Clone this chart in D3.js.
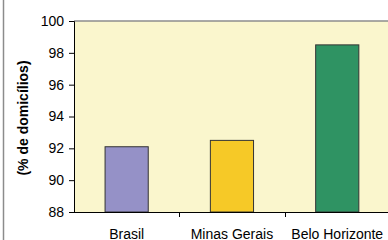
<!DOCTYPE html>
<html>
<head>
<meta charset="utf-8">
<script src="https://cdn.jsdelivr.net/npm/d3@7"></script>
<style>
  body { margin: 0; background: #fff; }
  text { font-family: "Liberation Sans", Arial, sans-serif; }
</style>
</head>
<body>
<svg id="chart" width="388" height="240"></svg>
<script>
var categories = ['Brasil', 'Minas Gerais', 'Belo Horizonte'];
var values = [92.1, 92.5, 98.5];
var colors = ['#9591c7', '#f6c927', '#2f9363'];
var yTicks = [88, 90, 92, 94, 96, 98, 100];

var svg = d3.select('#chart');
var plotLeft = 74, plotTop = 21, plotBottom = 212, bandW = 105.3;

var x = d3.scaleBand()
  .domain(categories)
  .range([plotLeft, plotLeft + bandW * categories.length])
  .paddingInner(0.59).paddingOuter(0.295);
var y = d3.scaleLinear().domain([88, 100]).range([plotBottom, plotTop]);

// outer chart border (left edge)
svg.append('line')
  .attr('x1', 3.5).attr('x2', 3.5).attr('y1', 0).attr('y2', 240)
  .attr('stroke', '#8c8c8c').attr('stroke-width', 1.5)

// plot background
svg.append('rect')
  .attr('x', plotLeft).attr('y', plotTop)
  .attr('width', 388 - plotLeft).attr('height', plotBottom - plotTop)
  .attr('fill', '#faf6cd')
svg.append('line')
  .attr('x1', plotLeft).attr('x2', 388).attr('y1', plotTop).attr('y2', plotTop)
  .attr('stroke', '#8c8c8c').attr('stroke-width', 1.5)

svg.selectAll('rect.bar')
  .data(values)
  .enter().append('rect')
  .attr('class', 'bar')
  .attr('x', function(d, i) { return x(categories[i]); })
  .attr('y', function(d) { return y(d); })
  .attr('width', x.bandwidth())
  .attr('height', function(d) { return plotBottom - y(d); })
  .attr('fill', function(d, i) { return colors[i]; })
  .attr('stroke', '#333').attr('stroke-width', 1)

var yAxis = svg.append('g')
  .attr('transform', 'translate(' + plotLeft + ',0)')
  .call(d3.axisLeft(y).tickValues(yTicks).tickSize(5).tickPadding(5));
yAxis.select('.domain').attr('stroke', '#000');
yAxis.selectAll('.tick line').attr('stroke', '#000');
yAxis.selectAll('text')
  .attr('font-size', 14).attr('fill', '#000')
  .style('font-family', '"Liberation Sans", Arial, sans-serif');

// x axis with ticks between categories
var xAxis = svg.append('g');
xAxis.append('line')
  .attr('x1', plotLeft).attr('x2', 388).attr('y1', plotBottom + 0.5).attr('y2', plotBottom + 0.5)
  .attr('stroke', '#000');
var sepX = function(d) { return Math.round(x(d) - x.step() * x.paddingInner() / 2) + 0.5; };
xAxis.selectAll('line.sep')
  .data(categories.slice(1))
  .enter().append('line')
  .attr('class', 'sep')
  .attr('x1', sepX).attr('x2', sepX)
  .attr('y1', plotBottom).attr('y2', plotBottom + 5)
  .attr('stroke', '#000');
xAxis.selectAll('text')
  .data(categories)
  .enter().append('text')
  .attr('x', function(d) { return x(d) + x.bandwidth() / 2; })
  .attr('y', 238.5)
  .attr('text-anchor', 'middle')
  .attr('font-size', 14)
  .text(function(d) { return d; })

svg.append('text')
  .attr('transform', 'translate(28,118) rotate(-90)')
  .attr('text-anchor', 'middle')
  .attr('font-size', 14).attr('font-weight', 'bold')
  .text('(% de domicílios)')
</script>
</body>
</html>
